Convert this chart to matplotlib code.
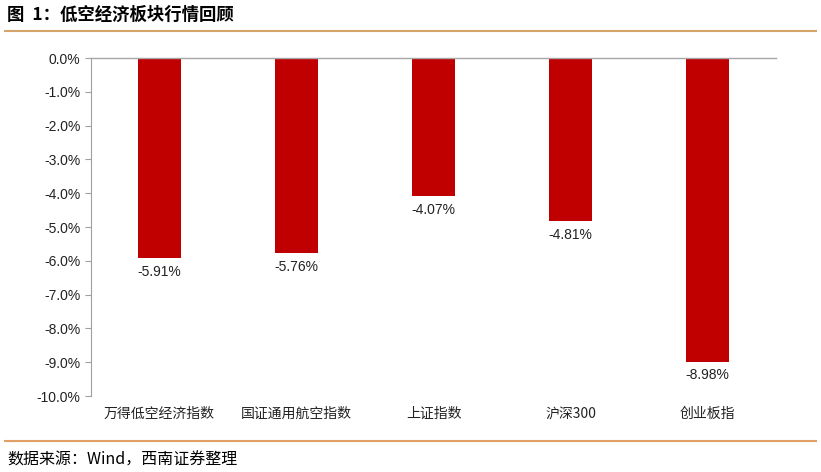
import matplotlib
matplotlib.use("Agg")
import matplotlib.pyplot as plt
import numpy as np

categories = ["万得低空经济指数", "国证通用航空指数", "上证指数", "沪深300", "创业板指"]
values = [-5.91, -5.76, -4.07, -4.81, -8.98]
yticks = [0, -1, -2, -3, -4, -5, -6, -7, -8, -9, -10]

plt.rcParams['font.family'] = ['Liberation Sans', 'Noto Sans CJK SC', 'DejaVu Sans']

fig = plt.figure(figsize=(8.21, 4.72), dpi=100)
ax = fig.add_axes([91/821, 1-396/472, (776-91)/821, (396-58)/472])

x = np.arange(len(categories))
ax.bar(x, values, width=0.32, color="#C00000", zorder=2)
for xi, v in zip(x, values):
    ax.annotate(f"{v:.2f}%", (xi, v), xytext=(0, -5), textcoords="offset points",
                ha="center", va="top", fontsize=10, color="#222222")

ax.set_xlim(-0.5, len(categories) - 0.5)
ax.set_ylim(-10, 0)
ax.set_yticks(yticks)
ax.set_yticklabels([f"{t:.1f}%" for t in yticks], fontsize=10, color="#222222")
ax.set_xticks(x)
ax.set_xticklabels(categories, fontsize=10, color="#222222",
                   family=['Noto Sans CJK SC', 'DejaVu Sans'])
ax.tick_params(axis='x', length=0, pad=8)
ax.tick_params(axis='y', length=4, direction='out', color="#A0A0A0", width=0.8)

for s in ["right", "bottom"]:
    ax.spines[s].set_visible(False)
ax.spines["left"].set_color("#A0A0A0")
ax.spines["left"].set_linewidth(0.8)
ax.spines["top"].set_color("#A6A6A6")
ax.spines["top"].set_linewidth(1.0)

# header and footer
fig.text(7/821, 1-15/472, "图  1：低空经济板块行情回顾", fontsize=12.5, fontweight='bold',
         va='center', ha='left', family=['Noto Sans CJK SC', 'DejaVu Sans'])
fig.add_artist(plt.Line2D([5/821, 816/821], [1-31/472, 1-31/472], color="#D4A46A", lw=1.5))
fig.add_artist(plt.Line2D([5/821, 816/821], [1-441/472, 1-441/472], color="#E3A064", lw=1.5))
fig.text(7/821, 1-460/472, "数据来源：Wind，西南证券整理", fontsize=11.5, style='italic',
         va='center', ha='left', family=['Noto Sans CJK SC', 'DejaVu Sans'])

fig.savefig("out.png", dpi=100)
